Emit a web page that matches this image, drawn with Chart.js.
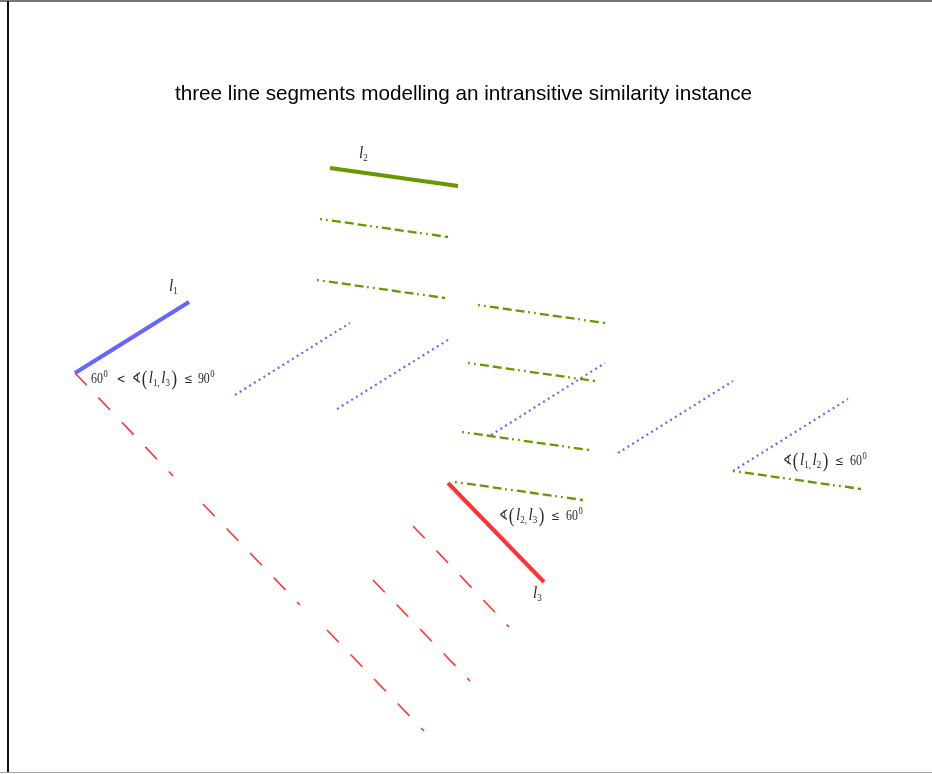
<!DOCTYPE html>
<html>
<head>
<meta charset="utf-8">
<script src="https://cdn.jsdelivr.net/npm/chart.js@4/dist/chart.umd.min.js"></script>
<style>
  html, body { margin: 0; padding: 0; background: #fff; }
  #wrap { position: relative; width: 932px; height: 774px; overflow: hidden; }
  #myChart { position: absolute; left: 0; top: 0; }
  .edge { position: absolute; }
</style>
</head>
<body>
<div id="wrap">
  <canvas id="myChart" width="932" height="774"></canvas>
  <div class="edge" style="left:0;top:0;width:932px;height:1.5px;background:#777"></div>
  <div class="edge" style="left:7px;top:1px;width:1.5px;height:771px;background:#111"></div>
  <div class="edge" style="left:0;top:772px;width:932px;height:1px;background:#aaa"></div>
</div>
<script>
// segments as [x1, y1, x2, y2] in picture units (y grows downward)
let solidL1 = [75, 373, 189, 302];
let solidL2 = [330, 168, 458, 186];
let solidL3 = [448, 483, 544, 582];

let blueCopies = [
  [235, 395, 350, 323],
  [337, 409, 451, 338],
  [491, 435, 605, 363],
  [618, 453, 733, 381],
  [733, 471, 848, 399],
];

let greenCopies = [
  [320, 219, 448, 237],
  [317, 280, 445, 298],
  [478, 305, 605, 323],
  [468, 363, 595, 381],
  [462, 432, 589, 450],
  [455, 482, 583, 500],
  [733, 471, 861, 489],
];

let redCopies = [
  [75, 373, 173, 476],
  [203, 504, 300, 605],
  [327, 630, 424, 731],
  [373, 580, 470, 681],
  [413, 526, 509, 627],
];

let titleText = "three line segments modelling an intransitive similarity instance";

let blue = "#6666ff";
let green = "#669900";
let red = "#ff3333";

function segDataset(seg, color, width, dash) {
  return {
    data: [{ x: seg[0], y: seg[1] }, { x: seg[2], y: seg[3] }],
    showLine: true,
    borderColor: color,
    borderWidth: width,
    borderDash: dash,
    borderCapStyle: "butt",
    pointRadius: 0,
    fill: false,
  };
}

let datasets = [];
redCopies.forEach(s => datasets.push(segDataset(s, red, 1.6, [17, 17])));
greenCopies.forEach(s => datasets.push(segDataset(s, green, 2.3, [1.8, 4.2, 1.8, 4.2, 9, 4, 9, 4, 9, 3.5])));
blueCopies.forEach(s => datasets.push(segDataset(s, blue, 2.2, [2, 3.6])));
datasets.push(segDataset(solidL1, blue, 4, []));
datasets.push(segDataset(solidL2, green, 4, []));
datasets.push(segDataset(solidL3, red, 4, []));

// math label pieces (sx = horizontal squeeze)
let mathStyles = {
  n: { font: '14px "Liberation Serif"', dy: 0, sx: 0.85 },
  o: { font: '13px "DejaVu Serif"', dy: 0, sx: 0.8 },
  i: { font: 'italic 17px "Liberation Serif"', dy: 0, sx: 0.9 },
  sub: { font: '10px "Liberation Serif"', dy: 3, sx: 0.9 },
  sup: { font: '9.5px "Liberation Serif"', dy: -6, sx: 0.9 },
  p: { font: '21px "Liberation Serif"', dy: 2, sx: 0.8 },
  a: { font: '15px "DejaVu Serif"', dy: 0, sx: 0.72 },
};

let labelA = [["n", "60"], ["g", 0.5], ["sup", "0"], ["g", 9], ["o", "<"], ["g", 6.5], ["a", "\u2222"], ["g", 0.5],
  ["p", "("], ["g", 1.5], ["i", "l"], ["sub", "1,"], ["g", 1.5], ["i", "l"], ["sub", "3"], ["g", 1.5], ["p", ")"],
  ["g", 7], ["o", "\u2264"], ["g", 5], ["n", "90"], ["g", 0.5], ["sup", "0"]];
let labelB = [["a", "\u2222"], ["g", 0.5], ["p", "("], ["g", 1.5], ["i", "l"], ["sub", "2,"], ["g", 1.5], ["i", "l"], ["sub", "3"],
  ["g", 1.5], ["p", ")"], ["g", 7], ["o", "\u2264"], ["g", 6], ["n", "60"], ["g", 0.5], ["sup", "0"]];
let labelC = [["a", "\u2222"], ["g", 0.5], ["p", "("], ["g", 1.5], ["i", "l"], ["sub", "1,"], ["g", 1.5], ["i", "l"], ["sub", "2"],
  ["g", 1.5], ["p", ")"], ["g", 7], ["o", "\u2264"], ["g", 6], ["n", "60"], ["g", 0.5], ["sup", "0"]];

let annotations = [
  { x: 169, y: 291, tokens: [["i", "l"], ["sub", "1"]] },
  { x: 359, y: 158, tokens: [["i", "l"], ["sub", "2"]] },
  { x: 533, y: 598, tokens: [["i", "l"], ["sub", "3"]] },
  { x: 91, y: 383, tokens: labelA },
  { x: 499, y: 520, tokens: labelB },
  { x: 783, y: 465, tokens: labelC },
];

function drawMath(ctx, x0, y0, tokens) {
  let x = x0;
  for (const [kind, val] of tokens) {
    if (kind === "g") { x += val; continue; }
    const st = mathStyles[kind];
    ctx.font = st.font;
    ctx.save();
    ctx.translate(x, y0 + st.dy);
    ctx.scale(st.sx, 1);
    ctx.fillText(val, 0, 0);
    ctx.restore();
    x += ctx.measureText(val).width * st.sx;
  }
}

const textPlugin = {
  id: "textPlugin",
  afterDraw(chart) {
    const ctx = chart.ctx;
    const xs = chart.scales.x, ys = chart.scales.y;
    ctx.save();
    ctx.fillStyle = "#000";
    ctx.textAlign = "center";
    ctx.textBaseline = "alphabetic";
    ctx.font = '20.7px "Liberation Sans"';
    ctx.fillText(titleText, xs.getPixelForValue(463.5), ys.getPixelForValue(100));
    ctx.textAlign = "left";
    ctx.fillStyle = "#2a2a2a";
    annotations.forEach(a => drawMath(ctx, xs.getPixelForValue(a.x), ys.getPixelForValue(a.y), a.tokens));
    ctx.restore();
  },
};

let ctx = document.getElementById("myChart").getContext("2d");

let myChart = new Chart(ctx, {
  type: "scatter",
  data: { datasets: datasets },
  options: {
    responsive: false,
    animation: false,
    layout: { padding: 0 },
    plugins: {
      legend: { display: false },
      tooltip: { enabled: false },
    },
    scales: {
      x: { type: "linear", min: 0, max: 932, display: false },
      y: { type: "linear", min: 0, max: 774, reverse: true, display: false },
    },
  },
  plugins: [textPlugin],
});
</script>
</body>
</html>
